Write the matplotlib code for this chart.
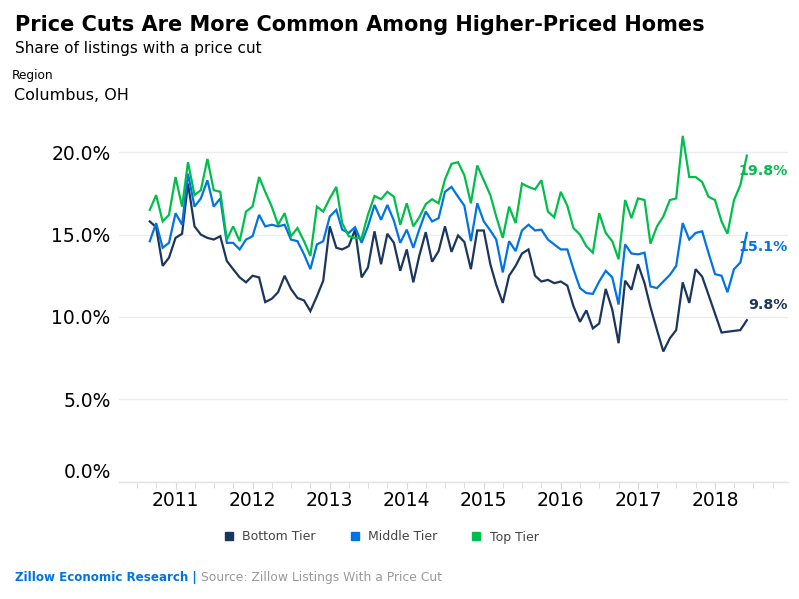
import numpy as np
import pandas as pd
import matplotlib
matplotlib.use("Agg")
import matplotlib.pyplot as plt
import matplotlib.dates as mdates
from matplotlib.lines import Line2D
from matplotlib.ticker import FuncFormatter

plt.rcParams['font.family'] = ['DejaVu Sans']

# ---- data ----
months = pd.date_range("2010-09-01", "2018-06-01", freq="MS")

bottom_tier = [15.8, 15.45, 13.1, 13.6, 14.8, 15.05, 18.1, 15.5, 15.0, 14.8,
               14.7, 14.9, 13.4, 12.9, 12.4, 12.1, 12.5, 12.4, 10.9, 11.1,
               11.5, 12.5, 11.7, 11.15, 11.0, 10.35, 11.25, 12.2, 15.5, 14.2,
               14.1, 14.3, 15.3, 12.4, 13.0, 15.2, 13.2, 15.05, 14.5, 12.8,
               14.1, 12.1, 13.7, 15.15, 13.35, 14.0, 15.5, 13.95, 14.95, 14.55,
               12.9, 15.25, 15.25, 13.2, 11.95, 10.85, 12.5, 13.1, 13.85, 14.1,
               12.5, 12.15, 12.25, 12.05, 12.15, 11.9, 10.65, 9.7, 10.4, 9.3,
               9.6, 11.7, 10.45, 8.4, 12.2, 11.65, 13.2, 12.05, 10.6, 9.2,
               7.9, 8.7, 9.2, 12.1, 10.85, 12.9, 12.45, 11.35, 10.2, 9.05,
               9.1, 9.15, 9.2, 9.8]

middle_tier = [14.6, 15.7, 14.2, 14.5, 16.3, 15.6, 18.7, 16.7, 17.2, 18.3,
               16.7, 17.2, 14.5, 14.5, 14.1, 14.7, 14.9, 16.2, 15.5, 15.6,
               15.5, 15.6, 14.7, 14.6, 13.8, 12.9, 14.4, 14.6, 16.1, 16.5,
               15.3, 15.1, 15.45, 14.5, 15.5, 16.8, 15.9, 16.8, 15.85, 14.5,
               15.3, 14.2, 15.3, 16.4, 15.8, 16.0, 17.6, 17.9, 17.3, 16.75,
               14.6, 16.9, 15.8, 15.25, 14.7, 12.7, 14.6, 14.0, 15.25, 15.6,
               15.25, 15.3, 14.7, 14.4, 14.1, 14.1, 12.9, 11.75, 11.45, 11.4,
               12.15, 12.8, 12.4, 10.75, 14.4, 13.85, 13.8, 13.9, 11.85, 11.75,
               12.15, 12.55, 13.1, 15.7, 14.7, 15.1, 15.2, 13.9, 12.6, 12.5,
               11.5, 12.9, 13.3, 15.1]

top_tier = [16.5, 17.4, 15.8, 16.2, 18.5, 16.7, 19.4, 17.4, 17.7, 19.6,
            17.7, 17.6, 14.7, 15.5, 14.6, 16.4, 16.7, 18.5, 17.6, 16.7,
            15.6, 16.3, 14.9, 15.4, 14.6, 13.7, 16.7, 16.4, 17.2, 17.9,
            15.7, 14.9, 14.8, 14.8, 16.2, 17.35, 17.15, 17.6, 17.3, 15.6,
            16.9, 15.5, 16.05, 16.85, 17.15, 16.9, 18.35, 19.3, 19.4, 18.6,
            16.9, 19.2, 18.3, 17.4, 16.1, 14.8, 16.7, 15.7, 18.1, 17.9,
            17.75, 18.3, 16.4, 16.05, 17.6, 16.75, 15.4, 15.0, 14.3, 13.9,
            16.3, 15.1, 14.6, 13.5, 17.1, 16.0, 17.2, 17.1, 14.45, 15.5,
            16.1, 17.1, 17.2, 21.0, 18.5, 18.5, 18.2, 17.3, 17.1, 15.8,
            15.05, 17.1, 18.0, 19.8]

series_names = ["Bottom Tier", "Middle Tier", "Top Tier"]
series_values = [bottom_tier, middle_tier, top_tier]
series_colors = ["#1B365D", "#0074E4", "#00BE4B"]
end_labels = ["9.8%", "15.1%", "19.8%"]
label_offsets_px = [15, -14, -15]   # vertical offset (px, up positive)

y_ticks = [0, 5, 10, 15, 20]

# ---- figure ----
W, H = 799, 599
fig = plt.figure(figsize=(W / 100, H / 100), dpi=100)

ax_left, ax_right = 119, 788
y0_px, y22_px = 481.5, 481.5 - 22 * 16.46
ax = fig.add_axes([ax_left / W, 1 - y0_px / H, (ax_right - ax_left) / W,
                   (y0_px - y22_px) / H])

for vals, col in zip(series_values, series_colors):
    ax.plot(months, vals, color=col, lw=1.6, solid_joinstyle='miter')

ax.set_ylim(0, 22)
ax.set_xlim(pd.Timestamp("2010-04-08"), pd.Timestamp("2018-12-13"))

ax.set_yticks(y_ticks)
ax.yaxis.set_major_formatter(FuncFormatter(lambda v, p: f"{v:.1f}%"))
ax.grid(axis='y', color='#ececec', lw=1)
ax.set_axisbelow(True)
ax.tick_params(axis='y', length=0, pad=6, labelsize=13.5, labelcolor='black')

ax.xaxis.set_major_locator(mdates.YearLocator())
ax.xaxis.set_major_formatter(mdates.DateFormatter("%Y"))
ax.xaxis.set_minor_locator(mdates.MonthLocator(bymonth=[4, 7, 10]))
ax.tick_params(axis='x', which='major', length=5, color='#d8d8d8', pad=1.5,
               labelsize=13.5, labelcolor='black')
ax.tick_params(axis='x', which='minor', length=4, color='#d8d8d8')

for s in ['top', 'right', 'left']:
    ax.spines[s].set_visible(False)
ax.spines['bottom'].set_color('#e3e3e3')
ax.spines['bottom'].set_linewidth(1)

# lift the 0.0% label above the axis line
fig.canvas.draw()
ylabels = ax.get_yticklabels()
ylabels[0].set_va('bottom')

# end labels
for vals, col, lab, off in zip(series_values, series_colors, end_labels, label_offsets_px):
    ax.annotate(lab, xy=(months[-1], vals[-1]), xytext=(786 - 745.5, off),
                textcoords='offset pixels', ha='right', va='center',
                color=col, fontsize=10.2, fontweight='bold')

# titles
fig.text(15 / W, 1 - 25 / H, "Price Cuts Are More Common Among Higher-Priced Homes",
         fontsize=15, fontweight='bold', va='center', ha='left', color='black')
fig.text(15 / W, 1 - 49 / H, "Share of listings with a price cut",
         fontsize=11, va='center', ha='left', color='black')
fig.text(12 / W, 1 - 75 / H, "Region", fontsize=8.7, va='center', ha='left', color='black')
fig.text(14 / W, 1 - 96 / H, "Columbus, OH", fontsize=11.5, va='center', ha='left', color='black')

# legend
handles = [Line2D([], [], marker='s', linestyle='none', color=c, markersize=6)
           for c in series_colors]
fig.legend(handles, series_names, loc='center', bbox_to_anchor=(381 / W, 1 - 537 / H),
           ncol=3, frameon=False, fontsize=9, handlelength=0.8, handletextpad=0.65,
           columnspacing=2.75, labelcolor='#444444')

# footer
t1 = fig.text(15 / W, 1 - 577 / H, "Zillow Economic Research |", fontsize=8.6,
              fontweight='bold', color='#0074E4', va='center', ha='left')
ax.annotate(" Source: Zillow Listings With a Price Cut", xy=(1, 0.5), xycoords=t1,
            va='center', ha='left', fontsize=8.9, color='#999999',
            annotation_clip=False)

fig.savefig("out.png", dpi=100)
